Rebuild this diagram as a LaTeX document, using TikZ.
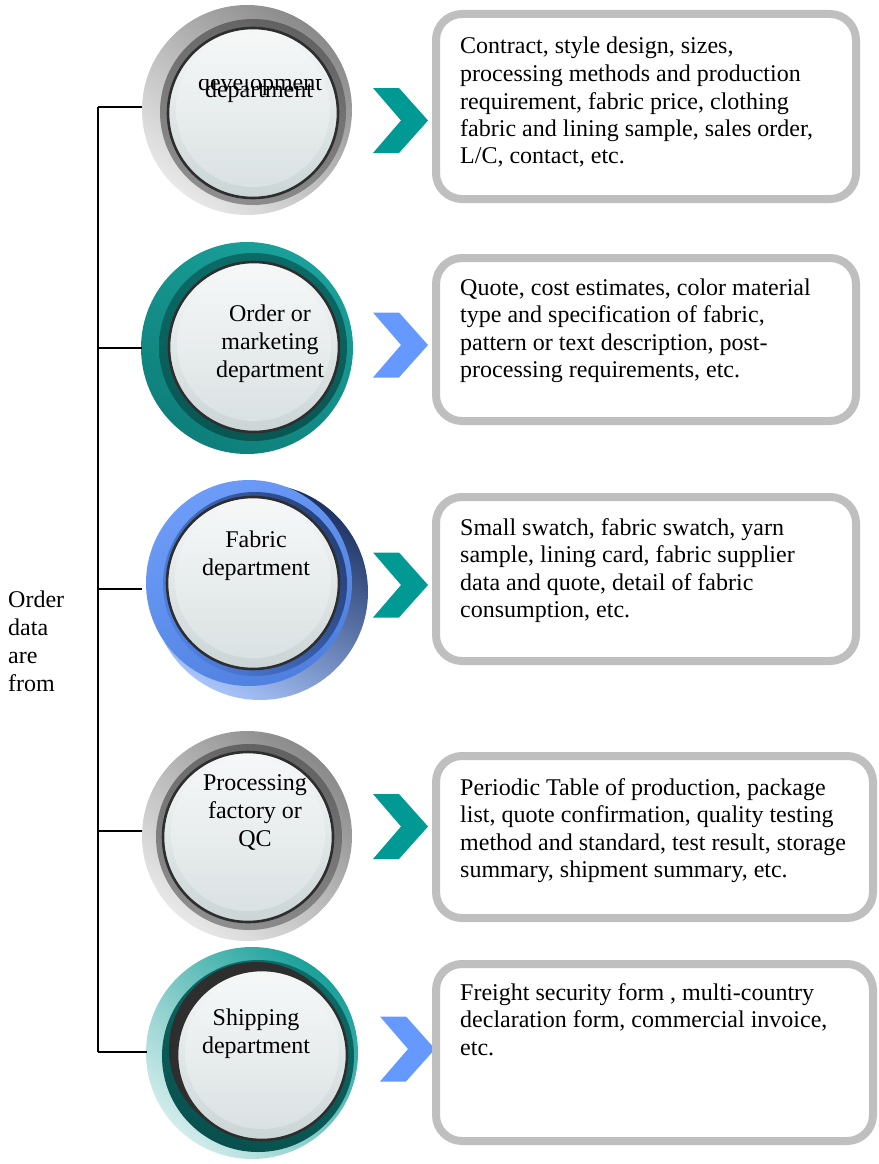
\documentclass[tikz,border=0pt]{standalone}
\usepackage{fontspec}
\setmainfont{Liberation Serif}
\definecolor{discedge}{HTML}{2E2E2E}
\definecolor{boxgray}{HTML}{BFBFBF}
\definecolor{chevteal}{RGB}{0,153,148}
\definecolor{chevblue}{RGB}{102,153,255}
\definecolor{graylt}{HTML}{E8E8E8}
\definecolor{graydk}{HTML}{8A8A8A}
\definecolor{grayring}{HTML}{7A7A7A}
\definecolor{teallt}{HTML}{1AA09A}
\definecolor{tealdk}{HTML}{0E7F7A}
\definecolor{tealring}{HTML}{0B6B67}
\definecolor{bluelt}{HTML}{6C9CF7}
\definecolor{bluemd}{HTML}{4F80E0}
\definecolor{bluenavy}{HTML}{1D3364}
\definecolor{glasstop}{HTML}{F6F8F8}
\definecolor{glassbot}{HTML}{CBD5D6}
\newcommand\glassdisc[3]{%
  \shade[draw=discedge, line width=2.6pt, top color=glasstop, bottom color=glassbot]
    (#1,#2) circle [radius=#3];
  \shade[top color=glasstop, bottom color=glassbot!70!white]
    (#1,{#2-3}) circle [radius={#3-8}];
}
\newcommand\drawchevron[3]{%
  \fill[#3] (#1,{#2-32.5}) -- ++(26,0) -- ({#1+55},#2) -- ({#1+26},{#2+32.5})
    -- (#1,{#2+32.5}) -- ({#1+28},#2) -- cycle;
}
\begin{document}
\begin{tikzpicture}[x=1pt,y=-1pt,
  hub/.style={circle, inner sep=0pt, minimum size=210pt},
  infobox/.style={draw=boxgray, line width=8pt, rounded corners=26pt, fill=white,
    inner sep=0pt, minimum width=420pt},
  infotext/.style={anchor=base west, inner sep=0pt,
    font=\fontsize{24}{27.5}\selectfont},
  disctext/.style={anchor=base, inner sep=0pt,
    font=\fontsize{24}{28}\selectfont},
  spine/.style={line width=1.4pt, black}]
\useasboundingbox[fill=white] (0,0) rectangle (878,1164);

% ---------- buttons ----------
% 1: product development (gray)
\shade[top color=graylt, bottom color=graydk, shading angle=140] (247,110) circle [radius=105];
\shade[top color=grayring!85!white, bottom color=grayring!80!black, shading angle=160] (253,112) circle [radius=93];
\glassdisc{253}{113}{85}
\node[hub] (c1) at (247,110) {};

% 2: order / marketing (teal)
\shade[top color=teallt, bottom color=tealdk, shading angle=-30] (247,348) circle [radius=106];
\shade[top color=tealring, bottom color=tealring!80!black, shading angle=0] (253,347) circle [radius=94];
\glassdisc{254}{347}{85}
\node[hub] (c2) at (247,348) {};

% 3: fabric (blue)
\shade[top color=bluelt!60!white, bottom color=bluenavy, shading angle=150] (260,592) circle [radius=108];
\shade[top color=bluelt, bottom color=bluemd, shading angle=30] (249,583) circle [radius=103];
\shade[top color=bluemd, bottom color=bluenavy!80!bluemd, shading angle=120] (255,584) circle [radius=92];
\glassdisc{253}{583}{86}
\node[hub] (c3) at (247,589) {};

% 4: processing factory (gray)
\shade[top color=graylt, bottom color=graydk, shading angle=140] (247,836) circle [radius=105];
\shade[top color=grayring!85!white, bottom color=grayring!80!black, shading angle=160] (249,837) circle [radius=93];
\glassdisc{248}{837}{85}
\node[hub] (c4) at (247,836) {};

% 5: shipping (teal)
\shade[top color=teallt!20!white, bottom color=teallt, shading angle=135] (252,1053) circle [radius=106];
\shade[top color=tealring, bottom color=tealring!75!black, shading angle=-20] (258,1056) circle [radius=96];
\fill[discedge] (256,1049) circle [radius=87];
\glassdisc{262}{1055}{85}
\node[hub] (c5) at (252,1052) {};

% ---------- texts in the buttons ----------
\begin{scope}
  \clip (150,79.5) rectangle (350,130);
  \node[disctext] (t1a) at (260,90) {development};
\end{scope}
\node[disctext] (t1b) at (259,97) {department};
\node[disctext] (t2) at (270,321) {\parbox[t]{150pt}{\centering Order or\\ marketing\\ department}};
\node[disctext] (t3) at (256,547) {\parbox[t]{150pt}{\centering Fabric\\ department}};
\node[disctext] (t4) at (255,790) {\parbox[t]{150pt}{\centering Processing\\ factory or\\ QC}};
\node[disctext] (t5) at (256,1025) {\parbox[t]{150pt}{\centering Shipping\\ department}};

% ---------- chevrons ----------
\drawchevron{373}{120.5}{chevteal}
\drawchevron{373}{345}{chevblue}
\drawchevron{373}{585}{chevteal}
\drawchevron{373}{826.5}{chevteal}
\drawchevron{380}{1049}{chevblue}

% ---------- information boxes ----------
\node[infobox, minimum height=185pt] (b1) at (646,106.5) {};
\node[infobox, minimum height=163pt] (b2) at (646,339.5) {};
\node[infobox, minimum height=164pt] (b3) at (646,579) {};
\node[infobox, minimum height=162pt, minimum width=437pt] (b4) at (654.5,837) {};
\node[infobox, minimum height=177pt, minimum width=437pt] (b5) at (654.5,1052.5) {};

\node[infotext] (d1) at (460,54) {\parbox[t]{400pt}{\raggedright
  Contract, style design, sizes,\\ processing methods and production\\
  requirement, fabric price, clothing\\ fabric and lining sample, sales order,\\
  L/C, contact, etc.}};
\node[infotext] (d2) at (460,295) {\parbox[t]{400pt}{\raggedright
  Quote, cost estimates, color material\\ type and specification of fabric,\\
  pattern or text description, post-\\ processing requirements, etc.}};
\node[infotext] (d3) at (460,535) {\parbox[t]{400pt}{\raggedright
  Small swatch, fabric swatch, yarn\\ sample, lining card, fabric supplier\\
  data and quote, detail of fabric\\ consumption, etc.}};
\node[infotext] (d4) at (460,795) {\parbox[t]{410pt}{\raggedright
  Periodic Table of production, package\\ list, quote confirmation, quality testing\\
  method and standard, test result, storage\\ summary, shipment summary, etc.}};
\node[infotext] (d5) at (460,1000) {\parbox[t]{410pt}{\raggedright
  Freight security form , multi-country\\ declaration form, commercial invoice,\\
  etc.}};

% ---------- source label and bracket ----------
\node[infotext, font=\fontsize{24}{28}\selectfont] (src) at (8,607)
  {\parbox[t]{80pt}{\raggedright Order\\ data\\ are\\ from}};
\coordinate (j1) at (98,107);
\coordinate (j2) at (98,348);
\coordinate (j3) at (98,589);
\coordinate (j4) at (98,831);
\coordinate (j5) at (98,1052);
\draw[spine] (j1) -- (j5);
\foreach \k in {1,...,5} {
  \draw[spine] (j\k) -- (j\k -| c\k.west);
}
\end{tikzpicture}
\end{document}
